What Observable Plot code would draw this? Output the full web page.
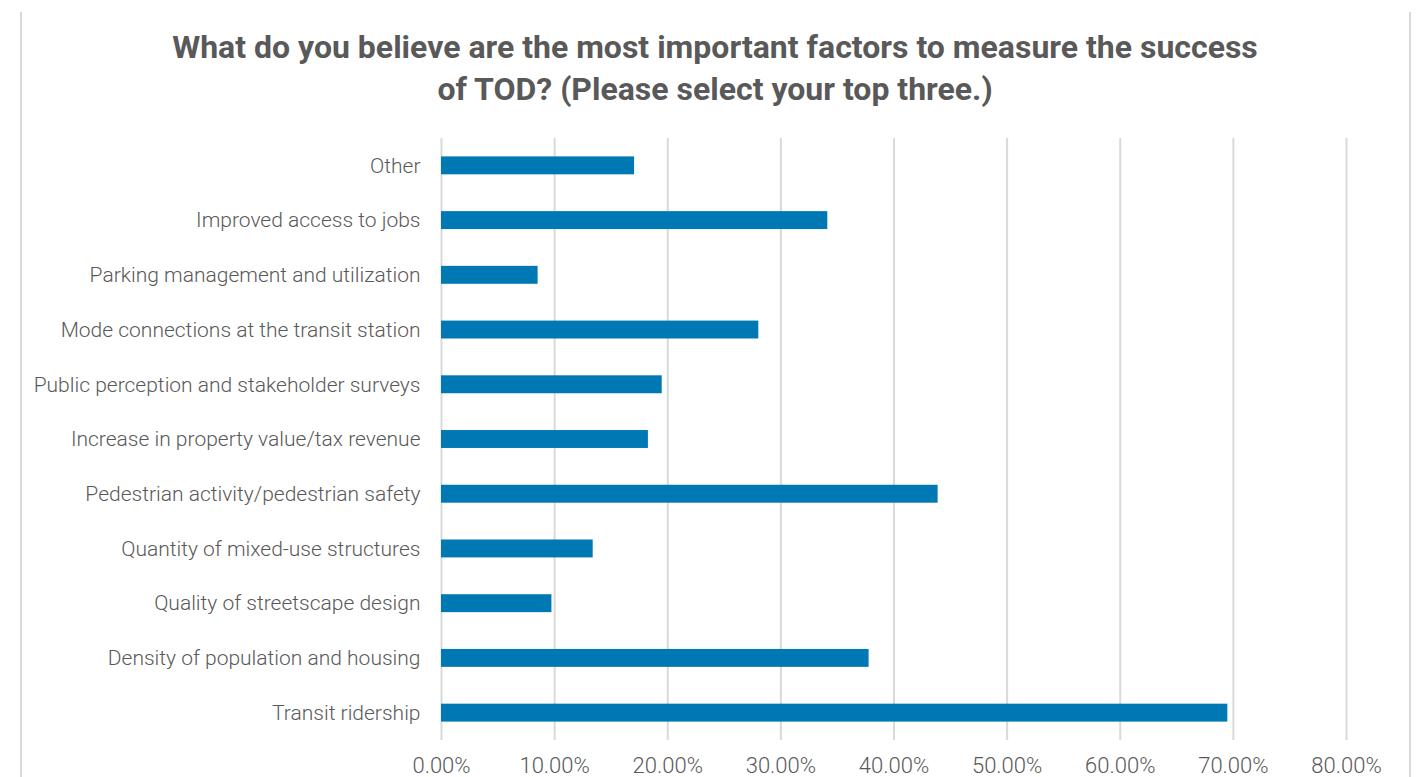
<!DOCTYPE html>
<html>
<head>
<meta charset="utf-8">
<script src="https://cdn.jsdelivr.net/npm/d3@7"></script>
<script src="https://cdn.jsdelivr.net/npm/@observablehq/plot@0.6"></script>
<style>
  html, body { margin: 0; padding: 0; background: #fff; }
  #page { position: relative; width: 1424px; height: 777px; overflow: hidden; background: #fff; }
  #title { position: absolute; left: 0; top: 26px; width: 1430px; text-align: center;
    font-family: Roboto, "Noto Sans", sans-serif; font-weight: 700; font-size: 32px; line-height: 42px;
    color: #595959; }
  .border { position: absolute; top: 12px; bottom: 0; width: 2px; background: #d9d9d9; }
  #chart { position: absolute; left: 0; top: 128px; line-height: 0; }
  #chart svg { display: block; }
</style>
</head>
<body>
<div id="page">
  <div class="border" style="left:20px"></div>
  <div class="border" style="left:1409px"></div>
  <div id="title">What do you believe are the most important factors to measure the success<br>of TOD? (Please select your top three.)</div>
  <div id="chart"></div>
</div>
<script>
const categories = [
  "Other",
  "Improved access to jobs",
  "Parking management and utilization",
  "Mode connections at the transit station",
  "Public perception and stakeholder surveys",
  "Increase in property value/tax revenue",
  "Pedestrian activity/pedestrian safety",
  "Quantity of mixed-use structures",
  "Quality of streetscape design",
  "Density of population and housing",
  "Transit ridership"
];
const values = [0.1707, 0.3415, 0.0854, 0.2805, 0.1951, 0.1829, 0.4390, 0.1341, 0.0976, 0.3780, 0.6951];
const xTicks = [0, 0.1, 0.2, 0.3, 0.4, 0.5, 0.6, 0.7, 0.8];

const data = categories.map((c, i) => ({category: c, value: values[i]}));

const chart = Plot.plot({
  width: 1424,
  height: 649,
  marginTop: 10,
  marginBottom: 37,
  marginLeft: 441,
  marginRight: 78,
  style: {fontFamily: "Roboto, 'Noto Sans', sans-serif", color: "#595959", background: "transparent"},
  x: {domain: [0, 0.8], ticks: xTicks},
  y: {domain: categories, padding: 0, round: false},
  marks: [
    Plot.ruleX(xTicks, {stroke: "#d9d9d9", strokeWidth: 2}),
    Plot.barX(data, {x: "value", y: "category", fill: "#0078b4", insetTop: 18.4, insetBottom: 18.4}),
    Plot.axisX({ticks: xTicks, tickFormat: d3.format(".2%"), tickSize: 0, tickPadding: 17,
      fontSize: 22, fontWeight: 300, fill: "#595959", label: null}),
    Plot.axisY({tickSize: 0, tickPadding: 21, fontSize: 21, fontWeight: 300, fill: "#595959", label: null})
  ]
});
document.getElementById("chart").appendChild(chart);
</script>
</body>
</html>
